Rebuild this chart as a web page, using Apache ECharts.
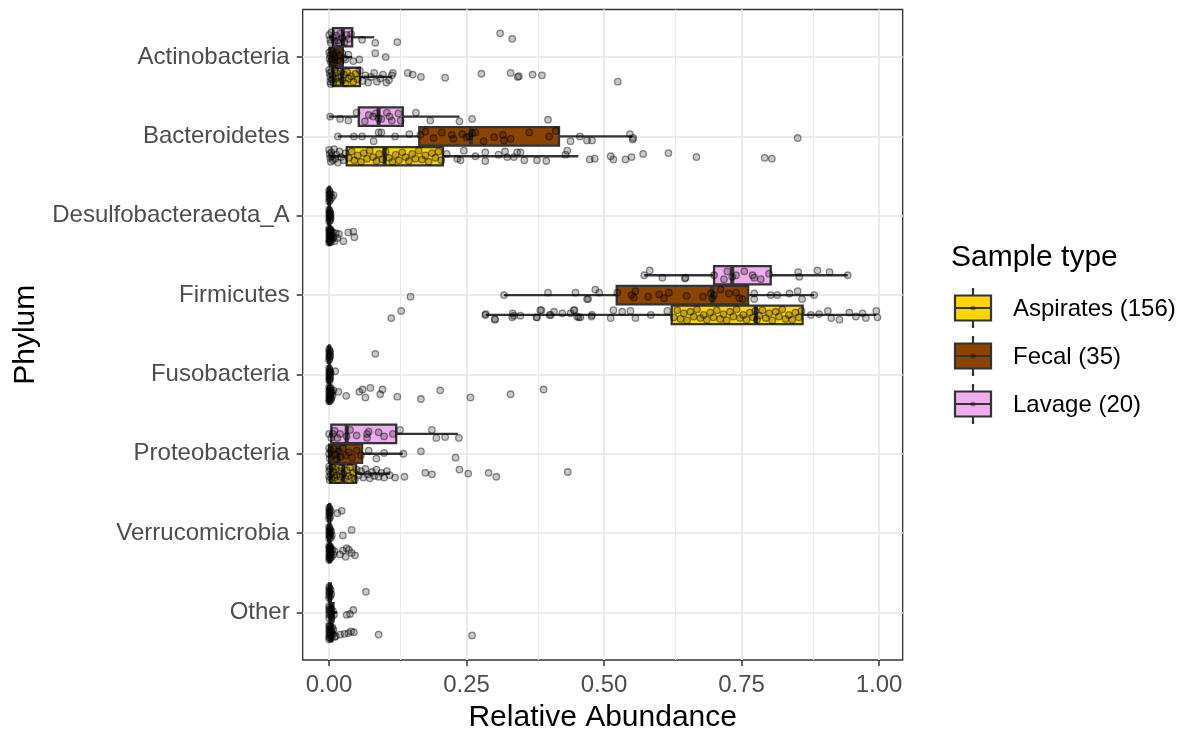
<!DOCTYPE html>
<html>
<head>
<meta charset="utf-8">
<script src="https://cdn.jsdelivr.net/npm/echarts@6/dist/echarts.min.js"></script>
<style>
html,body{margin:0;padding:0;background:#fff;}
#chart{width:1184px;height:732px;}
</style>
</head>
<body>
<div id="chart"></div>
<script>
// ---------------- DATA ----------------
const categories = ['Actinobacteria','Bacteroidetes','Desulfobacteraeota_A','Firmicutes','Fusobacteria','Proteobacteria','Verrucomicrobia','Other'];
const groupNames = ['Aspirates','Fecal','Lavage'];
const groupLabels = ['Aspirates (156)','Fecal (35)','Lavage (20)'];
const xTicks = [0, 0.25, 0.5, 0.75, 1.0];
const xMinorTicks = [0.125, 0.375, 0.625, 0.875];

// box stats per phylum: [lower whisker, Q1, median, Q3, upper whisker]
const aspiratesBox = [
  [0, 0.007, 0.024, 0.056, 0.114],
  [0, 0.032, 0.101, 0.207, 0.453],
  [0, 0, 0.0005, 0.002, 0.005],
  [0.285, 0.623, 0.776, 0.861, 0.995],
  [0, 0, 0, 0.001, 0.002],
  [0, 0.002, 0.026, 0.049, 0.111],
  [0, 0, 0.0005, 0.002, 0.005],
  [0, 0.001, 0.003, 0.006, 0.012]
];
const fecalBox = [
  [0, 0.001, 0.012, 0.025, 0.042],
  [0.016, 0.164, 0.258, 0.418, 0.551],
  [0, 0, 0, 0.001, 0.002],
  [0.318, 0.523, 0.697, 0.762, 0.882],
  [0, 0, 0, 0, 0.001],
  [0, 0.0, 0.017, 0.060, 0.134],
  [0, 0, 0, 0.002, 0.005],
  [0, 0.001, 0.003, 0.008, 0.015]
];
const lavageBox = [
  [0, 0.007, 0.025, 0.042, 0.082],
  [0, 0.054, 0.090, 0.134, 0.237],
  [0, 0, 0, 0.001, 0.002],
  [0.573, 0.700, 0.733, 0.803, 0.943],
  [0, 0, 0, 0, 0.001],
  [0, 0.004, 0.032, 0.122, 0.234],
  [0, 0, 0, 0.002, 0.005],
  [0, 0, 0.001, 0.003, 0.007]
];

// individual samples per phylum: [relative abundance, vertical jitter]
const aspiratesPts = [
  [[0,-0.09],[0.001,-0.05],[0.002,0.0],[0.002,0.06],[0.003,0.09],[0.004,-0.07],[0.005,0.03],[0.006,-0.02],[0.008,0.07],[0.010,-0.09],[0.012,0.02],[0.014,-0.05],[0.016,0.06],[0.018,0.0],[0.021,-0.07],[0.024,0.04],[0.027,-0.03],[0.030,0.08],[0.033,-0.06],[0.036,0.02],[0.040,-0.01],[0.044,0.06],[0.048,-0.04],[0.052,0.03],[0.056,-0.08],[0.061,0.05],[0.066,-0.02],[0.071,0.07],[0.076,0.0],[0.082,-0.05],[0.087,0.06],[0.093,0.02],[0.098,-0.03],[0.104,0.07],[0.109,0.04],[0.114,-0.02],[0.116,-0.05],[0.143,-0.05],[0.152,-0.03],[0.167,0.0],[0.211,0.01],[0.277,-0.04],[0.330,-0.05],[0.343,0.0],[0.345,-0.01],[0.370,-0.03],[0.387,-0.02],[0.525,0.06]],
  [[0,-0.08],[0.001,-0.03],[0.002,0.02],[0.003,0.07],[0.004,-0.05],[0.005,0.0],[0.007,0.05],[0.009,-0.09],[0.011,0.03],[0.013,-0.02],[0.016,0.08],[0.019,-0.06],[0.022,0.01],[0.026,0.05],[0.030,-0.04],
   [0.036,0.02],[0.041,-0.06],[0.046,0.05],[0.052,-0.01],[0.058,0.07],[0.063,-0.04],[0.069,0.03],[0.074,-0.07],[0.080,0.01],[0.086,0.06],[0.091,-0.03],[0.097,0.04],[0.103,-0.06],[0.109,0.02],[0.115,0.07],[0.121,-0.02],[0.127,0.05],[0.133,-0.05],[0.139,0.01],[0.145,0.06],[0.151,-0.03],[0.157,0.03],[0.163,-0.07],[0.169,0.04],[0.175,-0.01],[0.181,0.07],[0.187,-0.04],[0.193,0.02],[0.199,-0.06],[0.204,0.05],
   [0.214,-0.03],[0.233,0.03],[0.239,0.05],[0.245,-0.07],[0.266,0.0],[0.284,-0.05],[0.284,0.06],[0.308,-0.02],[0.320,-0.06],[0.324,0.01],[0.336,0.01],[0.342,-0.05],[0.348,-0.05],[0.355,0.05],[0.378,0.05],[0.395,0.06],[0.430,-0.02],[0.433,-0.07],[0.474,0.04],[0.483,0.03],[0.512,0.0],[0.517,0.04],[0.539,0.04],[0.550,0.01],[0.571,-0.03],[0.617,-0.04],[0.668,0.01],[0.792,0.02],[0.805,0.03]],
  [[0,-0.09],[0,-0.05],[0,0.0],[0,0.05],[0,0.09],[0.001,-0.07],[0.001,-0.02],[0.001,0.03],[0.001,0.07],[0.002,-0.08],[0.002,-0.03],[0.002,0.02],[0.002,0.06],[0.003,-0.05],[0.003,0.0],[0.003,0.08],[0.004,-0.06],[0.004,0.04],[0.005,-0.01],[0.006,0.05],[0.007,-0.04],[0.008,0.02],[0.010,0.07],[0.012,-0.03],[0.015,0.03],[0.018,-0.02],[0.026,0.07],[0.035,-0.04],[0.044,-0.05],[0.046,0.02]],
  [[0.113,0.04],[0.131,-0.05],[0.284,0.0],[0.285,-0.01],[0.301,0.05],[0.302,0.06],[0.333,0.03],[0.334,-0.02],[0.336,0.01],[0.348,0.01],[0.377,0.03],[0.378,0.03],[0.384,-0.06],[0.386,-0.06],[0.401,0.0],[0.403,0.0],[0.409,-0.04],[0.424,-0.02],[0.439,-0.02],[0.445,-0.06],[0.446,-0.06],[0.451,0.02],[0.454,0.03],[0.457,0.03],[0.477,0.02],[0.478,0.0],[0.512,0.04],[0.517,-0.06],[0.533,-0.04],[0.548,-0.05],[0.557,0.04],[0.585,0.0],[0.615,-0.05],
   [0.627,0.03],[0.633,-0.06],[0.639,0.05],[0.645,-0.02],[0.651,0.07],[0.657,-0.04],[0.663,0.02],[0.669,-0.07],[0.675,0.04],[0.681,0.0],[0.687,0.06],[0.693,-0.03],[0.699,0.03],[0.705,-0.06],[0.711,0.05],[0.717,-0.01],[0.723,0.07],[0.729,-0.04],[0.735,0.02],[0.741,-0.07],[0.747,0.04],[0.753,0.0],[0.759,0.06],[0.765,-0.03],[0.771,0.03],[0.775,-0.05],[0.778,0.06],[0.782,0.01],[0.788,-0.06],[0.794,0.04],[0.800,-0.02],[0.806,0.07],[0.812,-0.04],[0.818,0.02],[0.824,-0.07],[0.830,0.05],[0.836,0.0],[0.842,0.06],[0.848,-0.03],[0.854,0.03],[0.859,-0.05],
   [0.876,0.0],[0.891,-0.01],[0.907,-0.05],[0.913,0.04],[0.928,0.06],[0.946,-0.03],[0.958,0.02],[0.970,-0.02],[0.976,0.04],[0.995,-0.05],[0.997,0.03]],
  [[0,-0.09],[0,-0.04],[0,0.01],[0,0.06],[0,0.09],[0.001,-0.07],[0.001,-0.02],[0.001,0.03],[0.001,0.08],[0.002,-0.06],[0.002,-0.01],[0.002,0.04],[0.003,-0.08],[0.003,0.0],[0.003,0.07],[0.004,-0.04],[0.004,0.05],[0.005,-0.02],[0.006,0.02],[0.008,-0.05],
   [0.017,-0.03],[0.031,0.02],[0.055,-0.03],[0.061,-0.06],[0.066,0.04],[0.075,-0.08],[0.093,0.0],[0.097,-0.06],[0.124,0.03],[0.167,0.06],[0.202,-0.05],[0.257,0.04],[0.330,0.0],[0.390,-0.06]],
  [[0,-0.09],[0,-0.03],[0,0.04],[0.001,0.08],[0.002,-0.06],[0.003,0.01],[0.004,0.06],[0.006,-0.08],[0.008,-0.02],[0.010,0.05],[0.012,-0.05],[0.014,0.02],[0.016,0.08],[0.018,-0.03],[0.020,0.04],[0.023,-0.07],[0.026,0.0],[0.029,0.06],[0.032,-0.04],[0.035,0.03],[0.038,-0.08],[0.041,0.05],[0.044,-0.01],[0.047,0.07],[0.050,-0.05],
   [0.054,0.02],[0.058,-0.03],[0.062,0.05],[0.066,-0.06],[0.070,0.01],[0.074,0.06],[0.078,-0.02],[0.082,0.03],[0.086,-0.05],[0.090,0.04],[0.095,-0.01],[0.100,0.05],[0.105,-0.03],[0.110,0.02],
   [0.120,0.05],[0.137,0.04],[0.175,-0.01],[0.187,0.01],[0.237,-0.05],[0.253,0.0],[0.290,-0.01],[0.304,0.04],[0.434,-0.02]],
  [[0,-0.09],[0,-0.05],[0,0.0],[0,0.05],[0,0.09],[0.001,-0.07],[0.001,-0.02],[0.001,0.03],[0.001,0.07],[0.002,-0.08],[0.002,-0.04],[0.002,0.01],[0.002,0.06],[0.003,-0.06],[0.003,0.03],[0.004,-0.01],[0.005,0.05],[0.006,-0.04],[0.008,0.02],[0.010,-0.02],
   [0.020,0.02],[0.025,-0.03],[0.030,0.05],[0.032,-0.06],[0.036,-0.04],[0.041,0.0],[0.047,0.03]],
  [[0,-0.09],[0,-0.04],[0,0.01],[0,0.06],[0,0.09],[0.001,-0.07],[0.001,-0.02],[0.001,0.04],[0.002,-0.08],[0.002,0.0],[0.002,0.07],[0.003,-0.05],[0.003,0.03],[0.004,-0.02],[0.005,0.05],[0.006,-0.06],[0.007,0.02],[0.008,-0.03],[0.010,0.06],
   [0.012,0.05],[0.020,0.03],[0.028,0.02],[0.035,0.01],[0.040,-0.01],[0.045,0.0],[0.090,0.03],[0.260,0.04]]
];

const fecalPts = [
  [[0,-0.06],[0.001,0.02],[0.002,-0.02],[0.003,0.06],[0.004,-0.08],[0.005,0.03],[0.007,-0.04],[0.009,0.07],[0.011,0.0],[0.013,-0.06],[0.015,0.04],[0.018,-0.02],[0.021,0.05],[0.024,-0.05],[0.027,0.01],[0.030,0.03],[0.035,-0.03],[0.044,0.05],[0.055,0.03],[0.084,-0.05],[0.103,0.0]],
  [[0.016,0.0],[0.045,0.0],[0.060,0.0],[0.081,0.06],[0.090,-0.05],[0.095,-0.05],[0.120,0.0],[0.146,-0.03],[0.166,-0.02],[0.175,-0.06],[0.190,0.02],[0.205,-0.05],[0.223,-0.02],[0.226,0.03],[0.242,-0.03],[0.250,0.01],[0.255,0.0],[0.260,-0.04],[0.266,-0.05],[0.281,0.06],[0.300,0.01],[0.316,-0.02],[0.318,0.05],[0.330,0.03],[0.364,-0.05],[0.400,0.0],[0.412,-0.07],[0.439,0.06],[0.456,0.0],[0.469,0.05],[0.478,0.05],[0.547,-0.03],[0.552,0.04],[0.553,0.02],[0.852,0.02]],
  [[0,-0.08],[0,-0.03],[0,0.02],[0,0.07],[0.001,-0.06],[0.001,-0.01],[0.001,0.04],[0.002,-0.04],[0.002,0.01],[0.002,0.06],[0.003,-0.02],[0.003,0.03]],
  [[0.148,0.02],[0.318,0.0],[0.398,-0.03],[0.448,-0.03],[0.469,0.05],[0.471,0.05],[0.484,-0.07],[0.491,-0.03],[0.524,-0.03],[0.550,0.0],[0.554,0.03],[0.557,-0.05],[0.580,0.02],[0.600,-0.01],[0.609,0.04],[0.618,-0.03],[0.650,0.01],[0.680,0.02],[0.694,-0.02],[0.697,0.04],[0.700,0.0],[0.712,-0.07],[0.727,-0.02],[0.740,-0.03],[0.746,0.04],[0.752,0.05],[0.773,-0.02],[0.773,0.05],[0.803,0.0],[0.815,0.0],[0.837,-0.02],[0.852,-0.05],[0.860,0.05],[0.882,0.0]],
  [[0,-0.08],[0,-0.03],[0,0.02],[0,0.07],[0.001,-0.06],[0.001,-0.01],[0.001,0.04],[0.001,0.08],[0.002,-0.04],[0.002,0.01],[0.002,0.05],[0.003,-0.02],[0.011,-0.04]],
  [[0,-0.07],[0,0.0],[0.001,0.06],[0.003,-0.04],[0.005,0.03],[0.008,-0.06],[0.011,0.01],[0.014,0.07],[0.017,-0.03],[0.021,0.04],[0.025,-0.07],[0.030,0.02],[0.036,-0.02],[0.042,0.05],[0.050,-0.04],[0.058,0.02],[0.072,-0.04],[0.086,0.06],[0.100,-0.01],[0.135,0.0],[0.167,-0.03],[0.230,0.05]],
  [[0,-0.08],[0,-0.03],[0,0.02],[0,0.07],[0.001,-0.06],[0.001,-0.01],[0.001,0.04],[0.002,-0.04],[0.002,0.01],[0.003,0.06],[0.004,-0.02],[0.005,0.03],[0.025,0.03],[0.041,-0.04]],
  [[0,-0.08],[0,-0.03],[0,0.02],[0,0.07],[0.001,-0.06],[0.001,-0.01],[0.002,0.04],[0.003,-0.04],[0.004,0.01],[0.005,0.06],[0.007,-0.02],[0.009,0.03],[0.032,0.03],[0.038,0.02],[0.044,-0.03]]
];

const lavagePts = [
  [[0,-0.03],[0.002,0.03],[0.003,0.07],[0.004,-0.06],[0.007,0.0],[0.010,0.05],[0.013,-0.02],[0.016,0.04],[0.018,0.07],[0.020,-0.05],[0.024,0.01],[0.028,0.06],[0.032,-0.03],[0.036,0.02],[0.040,-0.04],[0.060,0.03],[0.084,0.07],[0.124,0.06],[0.311,-0.05],[0.333,0.02]],
  [[0.002,0.0],[0.020,0.03],[0.035,0.05],[0.050,-0.05],[0.065,0.06],[0.072,-0.02],[0.080,0.0],[0.085,-0.04],[0.090,0.02],[0.095,0.03],[0.105,-0.05],[0.110,0.0],[0.114,0.05],[0.126,-0.04],[0.130,0.05],[0.158,-0.05],[0.184,0.05],[0.237,0.06],[0.260,0.03],[0.398,0.04]],
  [[0,-0.07],[0,-0.02],[0,0.03],[0,0.07],[0.001,-0.05],[0.001,0.0],[0.002,0.05],[0.003,-0.03],[0.005,0.02],[0.008,-0.01]],
  [[0.573,0.0],[0.583,-0.06],[0.606,0.03],[0.647,0.04],[0.648,0.03],[0.700,0.0],[0.718,0.05],[0.724,-0.05],[0.733,0.02],[0.740,0.0],[0.755,-0.05],[0.770,0.0],[0.773,0.03],[0.785,0.05],[0.800,-0.02],[0.853,-0.04],[0.855,0.02],[0.888,-0.06],[0.910,-0.04],[0.943,0.0]],
  [[0,-0.07],[0,-0.02],[0,0.03],[0,0.07],[0.001,-0.05],[0.001,0.0],[0.001,0.05],[0.002,-0.03],[0.002,0.02],[0.084,-0.01]],
  [[0,0.0],[0.004,0.05],[0.007,0.0],[0.010,-0.04],[0.015,0.05],[0.020,0.0],[0.032,0.03],[0.038,-0.05],[0.050,0.02],[0.069,0.0],[0.069,0.05],[0.072,-0.03],[0.090,-0.02],[0.100,0.03],[0.116,0.0],[0.129,-0.05],[0.187,-0.05],[0.195,0.05],[0.211,0.04],[0.236,0.05]],
  [[0,-0.07],[0,-0.02],[0,0.03],[0,0.07],[0.001,-0.05],[0.001,0.0],[0.002,0.05],[0.003,-0.03],[0.015,0.0],[0.023,-0.03]],
  [[0,-0.07],[0,-0.02],[0,0.03],[0,0.07],[0.001,-0.05],[0.001,0.0],[0.002,0.05],[0.003,-0.03],[0.004,0.02],[0.067,-0.01]]
];

// ---------------- STYLE / LAYOUT ----------------
const groupColors = ['#FFD700', '#8B4500', '#EEAEEE'];
const groupOffset = [0.25, 0, -0.25];
const boxes = [aspiratesBox, fecalBox, lavageBox];
const points = [aspiratesPts, fecalPts, lavagePts];
const FONT = '"Liberation Sans", Arial, Helvetica, sans-serif';
const DARK = '#333333';

const chart = echarts.init(document.getElementById('chart'), null, {renderer: 'canvas'});

function renderBox(params, api) {
  const yc = api.value(0) + api.value(1);
  const lw = api.coord([api.value(2), yc]);
  const q1 = api.coord([api.value(3), yc]);
  const md = api.coord([api.value(4), yc]);
  const q3 = api.coord([api.value(5), yc]);
  const uw = api.coord([api.value(6), yc]);
  const h = Math.abs(api.size([0, 0.232])[1]);
  const color = api.visual('color');
  return {
    type: 'group',
    children: [
      {type: 'line', shape: {x1: lw[0], y1: lw[1], x2: q1[0], y2: q1[1]}, style: {stroke: DARK, lineWidth: 2.3}},
      {type: 'line', shape: {x1: q3[0], y1: q3[1], x2: uw[0], y2: uw[1]}, style: {stroke: DARK, lineWidth: 2.3}},
      {type: 'rect', shape: {x: q1[0], y: q1[1] - h / 2, width: Math.max(q3[0] - q1[0], 0.5), height: h}, style: {fill: color, stroke: DARK, lineWidth: 2.3}},
      {type: 'line', shape: {x1: md[0], y1: md[1] - h / 2, x2: md[0], y2: md[1] + h / 2}, style: {stroke: DARK, lineWidth: 4}}
    ]
  };
}

const series = [];

// gridlines (drawn underneath everything)
series.push({
  type: 'scatter', data: [], z: 0, silent: true,
  markLine: {
    silent: true, symbol: ['none', 'none'], animation: false, z: 0,
    label: {show: false},
    data: [
      ...xTicks.map(v => ({xAxis: v, lineStyle: {color: '#EBEBEB', width: 2, type: 'solid'}})),
      ...xMinorTicks.map(v => ({xAxis: v, lineStyle: {color: '#EBEBEB', width: 1, type: 'solid'}})),
      ...categories.map((c, i) => ({yAxis: i, lineStyle: {color: '#EBEBEB', width: 2, type: 'solid'}}))
    ]
  }
});

groupNames.forEach((g, gi) => {
  series.push({
    name: g,
    type: 'custom',
    z: 3,
    silent: true,
    itemStyle: {color: groupColors[gi]},
    renderItem: renderBox,
    encode: {x: [2, 3, 4, 5, 6], y: 0},
    data: boxes[gi].map((b, ci) => [ci, groupOffset[gi], ...b])
  });
});

groupNames.forEach((g, gi) => {
  const data = [];
  points[gi].forEach((arr, ci) => {
    arr.forEach(p => data.push([p[0], ci + groupOffset[gi] + p[1]]));
  });
  series.push({
    name: g + ' samples',
    type: 'scatter',
    z: 4,
    silent: true,
    symbol: 'circle',
    symbolSize: 6.5,
    itemStyle: {color: 'rgba(0,0,0,0.27)', borderColor: 'rgba(0,0,0,0.55)', borderWidth: 1.3},
    data: data
  });
});

// legend drawn from group arrays
const legendGraphics = [{
  type: 'text', left: 951, top: 243,
  style: {text: 'Sample type', font: '30px ' + FONT, fill: '#000'}
}];
groupNames.forEach((g, gi) => {
  const cy = 308 + gi * 48;
  legendGraphics.push(
    {type: 'line', shape: {x1: 973, y1: cy - 20, x2: 973, y2: cy + 20}, style: {stroke: DARK, lineWidth: 2.2}},
    {type: 'rect', shape: {x: 955, y: cy - 12.5, width: 36, height: 25}, style: {fill: groupColors[gi], stroke: DARK, lineWidth: 2.2}},
    {type: 'line', shape: {x1: 955, y1: cy, x2: 991, y2: cy}, style: {stroke: DARK, lineWidth: 2.2}},
    {type: 'circle', shape: {cx: 973, cy: cy, r: 2.6}, style: {fill: 'rgba(0,0,0,0.35)'}},
    {type: 'text', x: 1013, y: cy + 1, style: {text: groupLabels[gi], font: '24px ' + FONT, fill: '#000', verticalAlign: 'middle', align: 'left'}}
  );
});

const option = {
  backgroundColor: '#ffffff',
  animation: false,
  textStyle: {fontFamily: FONT},
  grid: {left: 302.7, top: 9.5, width: 600, height: 650.5, show: true, borderColor: DARK, borderWidth: 1.3, backgroundColor: 'transparent', containLabel: false, outerBoundsMode: 'none'},
  xAxis: {
    type: 'value', min: -0.048, max: 1.043,
    name: 'Relative Abundance', nameLocation: 'middle', nameGap: 43,
    nameTextStyle: {fontSize: 30, color: '#000', fontFamily: FONT},
    axisLine: {show: false, onZero: false},
    splitLine: {show: false},
    axisTick: {show: true, length: 6, lineStyle: {color: DARK, width: 1.5}, customValues: xTicks},
    axisLabel: {show: true, fontSize: 24, color: '#4D4D4D', margin: 13, fontFamily: FONT, customValues: xTicks, formatter: v => v.toFixed(2)}
  },
  yAxis: {
    type: 'value', min: -0.6, max: 7.6, inverse: true,
    name: 'Phylum', nameLocation: 'middle', nameGap: 262,
    nameTextStyle: {fontSize: 30, color: '#000', fontFamily: FONT},
    axisLine: {show: false, onZero: false},
    splitLine: {show: false},
    axisTick: {show: true, length: 6, lineStyle: {color: DARK, width: 1.5}, customValues: categories.map((c, i) => i)},
    axisLabel: {show: true, fontSize: 24, color: '#4D4D4D', margin: 13, fontFamily: FONT, customValues: categories.map((c, i) => i), formatter: v => categories[Math.round(v)]}
  },
  graphic: legendGraphics,
  series: series
};
chart.setOption(option);
</script>
</body>
</html>
